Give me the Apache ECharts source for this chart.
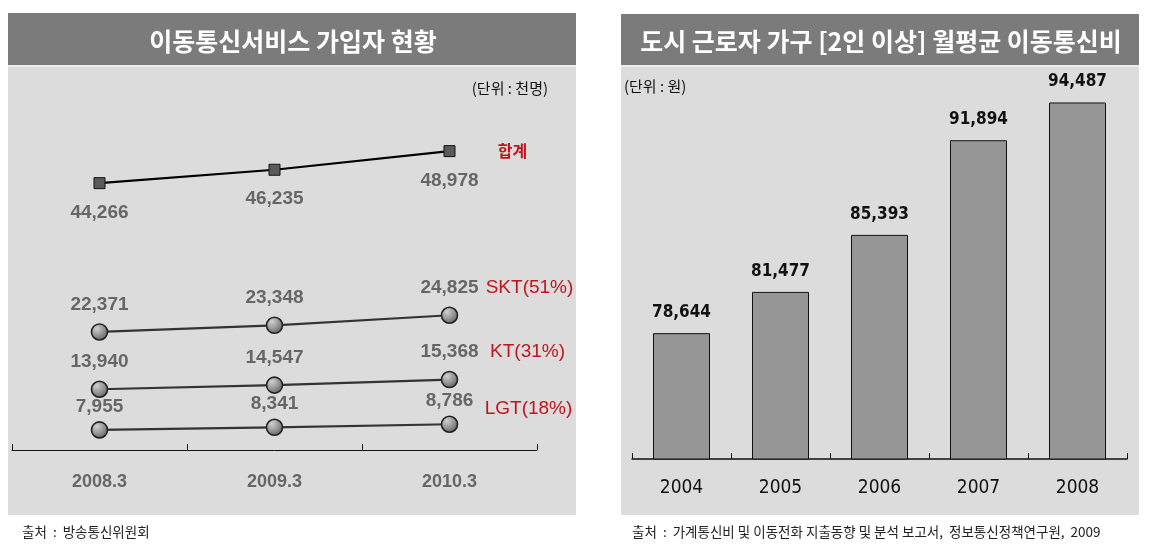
<!DOCTYPE html>
<html>
<head>
<meta charset="utf-8">
<script src="https://cdn.jsdelivr.net/npm/echarts@6/dist/echarts.min.js"></script>
<style>
html,body{margin:0;padding:0;background:#fff;}
#c{width:1150px;height:547px;}
</style>
</head>
<body>
<div id="c"></div>
<script>
// ---- data ----
const lineCategories = ['2008.3', '2009.3', '2010.3'];
const totalValues = [44266, 46235, 48978];
const sktValues = [22371, 23348, 24825];
const ktValues = [13940, 14547, 15368];
const lgtValues = [7955, 8341, 8786];
const seriesNames = ['합계', 'SKT(51%)', 'KT(31%)', 'LGT(18%)'];

const barCategories = ['2004', '2005', '2006', '2007', '2008'];
const barValues = [78644, 81477, 85393, 91894, 94487];

const leftTitle = '이동통신서비스 가입자 현황';
const rightTitle = '도시 근로자 가구 [2인 이상] 월평균 이동통신비';
const leftUnit = '(단위 : 천명)';
const rightUnit = '(단위 : 원)';
const leftSource = '출처  :  방송통신위원회';
const rightSource = '출처  :  가계통신비 및 이동전화 지출동향 및 분석 보고서,  정보통신정책연구원,  2009';

// ---- styles ----
const KR = '"Noto Sans CJK KR", "Noto Sans", sans-serif';
const fmt = v => Number(v).toLocaleString('en-US');
const red = '#c3141e';
const ballGradient = {
  type: 'radial', x: 0.35, y: 0.3, r: 0.8,
  colorStops: [{offset: 0, color: '#d0d0d0'}, {offset: 0.6, color: '#8a8a8a'}, {offset: 1, color: '#555'}]
};

function circleSeries(name, values, labelDist, nameOffset) {
  return {
    name: name, type: 'line', xAxisIndex: 0, yAxisIndex: 0,
    data: values,
    symbol: 'circle', symbolSize: 16,
    lineStyle: {color: '#333', width: 2.2},
    itemStyle: {color: ballGradient, borderColor: '#222', borderWidth: 1.6},
    label: {show: true, position: 'top', distance: labelDist, formatter: p => fmt(p.value),
      color: '#666', fontFamily: 'Liberation Sans, Arial', fontWeight: 'bold', fontSize: 19},
    markPoint: {
      symbol: 'circle', symbolSize: 1, itemStyle: {color: 'rgba(0,0,0,0)'},
      label: {show: true, position: 'inside', offset: nameOffset, formatter: name,
        color: red, fontFamily: 'Liberation Sans, Arial', fontSize: 19},
      data: [{coord: [lineCategories.length - 1, values[values.length - 1]]}]
    }
  };
}

const chart = echarts.init(document.getElementById('c'));
chart.setOption({
  backgroundColor: '#fff',
  animation: false,
  graphic: [
    {type: 'rect', z: -10, shape: {x: 8, y: 13, width: 568, height: 502}, style: {fill: '#dcdcdc'}},
    {type: 'rect', z: -9, shape: {x: 8, y: 13, width: 568, height: 52}, style: {fill: '#7b7b7b'}},
    {type: 'rect', z: -9, shape: {x: 8, y: 65, width: 568, height: 2}, style: {fill: '#ececec'}},
    {type: 'rect', z: -10, shape: {x: 621, y: 14, width: 518, height: 501}, style: {fill: '#dcdcdc'}},
    {type: 'rect', z: -9, shape: {x: 621, y: 14, width: 518, height: 51}, style: {fill: '#7b7b7b'}},
    {type: 'rect', z: -9, shape: {x: 621, y: 65, width: 518, height: 2}, style: {fill: '#ececec'}},
    {type: 'text', z: 10, style: {text: leftTitle, x: 293, y: 41, textAlign: 'center', textVerticalAlign: 'middle',
      fill: '#fff', font: 'bold 25px ' + KR}},
    {type: 'text', z: 10, style: {text: rightTitle, x: 881, y: 41, textAlign: 'center', textVerticalAlign: 'middle',
      fill: '#fff', font: 'bold 25px ' + KR}},
    {type: 'text', z: 10, style: {text: leftUnit, x: 548, y: 88, textAlign: 'right', textVerticalAlign: 'middle',
      fill: '#111', font: '15px ' + KR}},
    {type: 'text', z: 10, style: {text: rightUnit, x: 624, y: 86, textAlign: 'left', textVerticalAlign: 'middle',
      fill: '#111', font: '15px ' + KR}},
    {type: 'text', z: 10, style: {text: leftSource, x: 22, y: 532, textAlign: 'left', textVerticalAlign: 'middle',
      fill: '#222', font: '13.5px ' + KR}},
    {type: 'text', z: 10, style: {text: rightSource, x: 632, y: 532, textAlign: 'left', textVerticalAlign: 'middle',
      fill: '#222', font: '13.5px ' + KR}}
  ],
  grid: [
    {left: 12, right: 613, top: 100, bottom: 97},
    {left: 632, right: 23, top: 95, bottom: 88}
  ],
  xAxis: [
    {type: 'category', gridIndex: 0, data: lineCategories, boundaryGap: true,
      axisLine: {lineStyle: {color: '#111', width: 1}},
      axisTick: {show: true, inside: true, length: 6, lineStyle: {color: '#111'}},
      axisLabel: {margin: 23, color: '#666', fontFamily: 'Liberation Sans, Arial', fontWeight: 'bold', fontSize: 18}},
    {type: 'category', gridIndex: 1, data: barCategories, boundaryGap: true,
      axisLine: {lineStyle: {color: '#111', width: 1.5}},
      axisTick: {show: true, inside: true, length: 6, lineStyle: {color: '#111'}},
      axisLabel: {margin: 20, color: '#111', fontFamily: '"DejaVu Sans Condensed", "Liberation Sans", Arial', fontSize: 19}}
  ],
  yAxis: [
    {type: 'value', gridIndex: 0, min: 5000, max: 56500, show: false, splitLine: {show: false}},
    {type: 'value', gridIndex: 1, min: 70000, max: 95000, show: false, splitLine: {show: false}}
  ],
  series: [
    {
      name: seriesNames[0], type: 'line', xAxisIndex: 0, yAxisIndex: 0,
      data: totalValues,
      symbol: 'rect', symbolSize: 11,
      lineStyle: {color: '#000', width: 2.2},
      itemStyle: {color: '#5a5a5a', borderColor: '#111', borderWidth: 1},
      label: {show: true, position: 'bottom', distance: 14, formatter: p => fmt(p.value),
        color: '#666', fontFamily: 'Liberation Sans, Arial', fontWeight: 'bold', fontSize: 19},
      markPoint: {
        symbol: 'circle', symbolSize: 1, itemStyle: {color: 'rgba(0,0,0,0)'},
        label: {show: true, position: 'inside', offset: [63, 0], formatter: seriesNames[0],
          color: red, fontFamily: KR, fontWeight: 'bold', fontSize: 16},
        data: [{coord: [lineCategories.length - 1, totalValues[totalValues.length - 1]]}]
      }
    },
    circleSeries(seriesNames[1], sktValues, 9, [80, -28]),
    circleSeries(seriesNames[2], ktValues, 9, [78, -28]),
    circleSeries(seriesNames[3], lgtValues, 5, [79, -16]),
    {
      type: 'bar', xAxisIndex: 1, yAxisIndex: 1,
      data: barValues, barWidth: 57,
      itemStyle: {color: '#969696', borderColor: '#111', borderWidth: 1},
      label: {show: true, position: 'top', distance: 12, formatter: p => fmt(p.value),
        color: '#111', fontFamily: '"DejaVu Sans Condensed", "Liberation Sans", Arial', fontWeight: 'bold', fontSize: 17}
    }
  ]
});
</script>
</body>
</html>
